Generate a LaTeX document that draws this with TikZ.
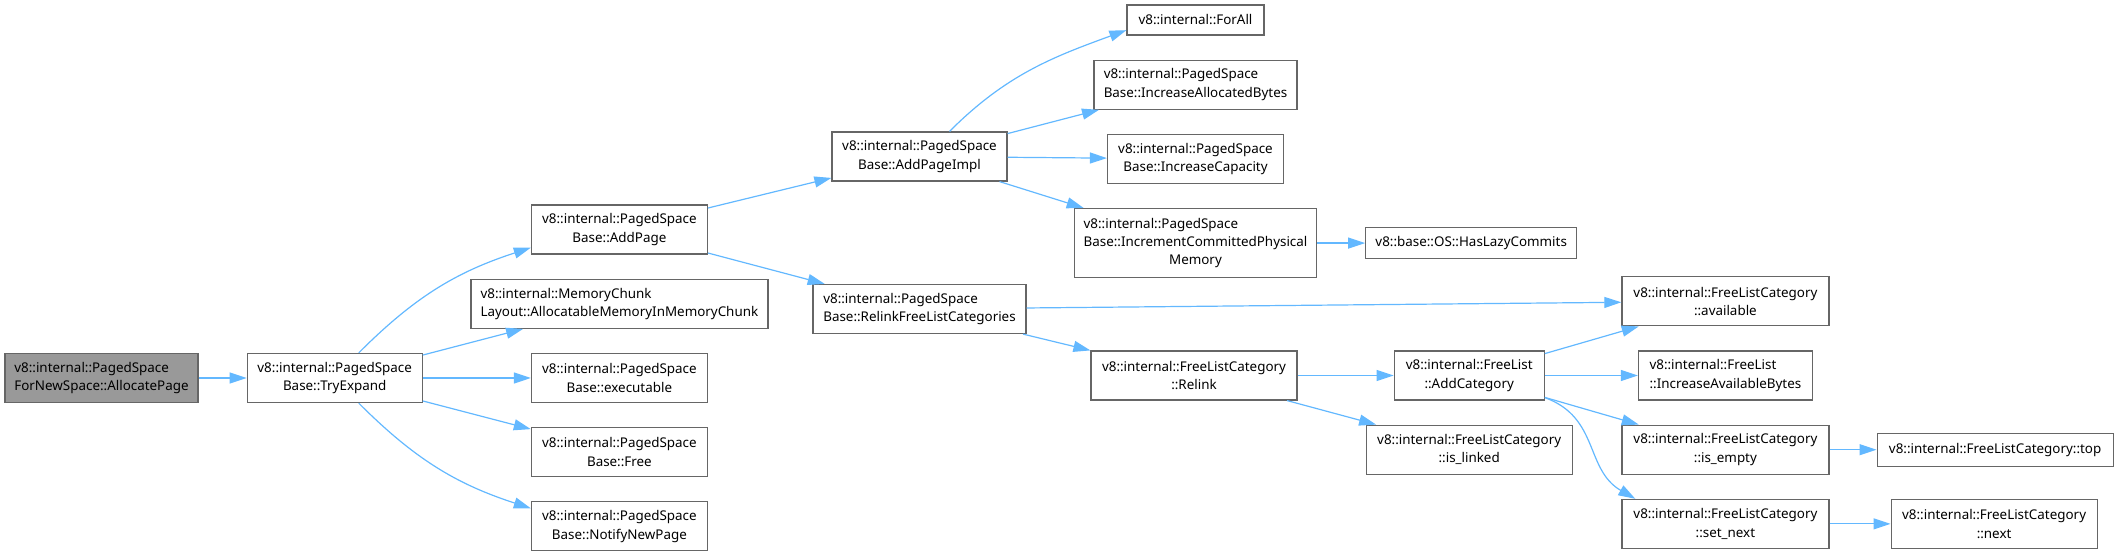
\documentclass[tikz,border=0pt]{standalone}
\usepackage{fontspec}
\setmainfont{Noto Sans}
\usepackage{tikz}
\usetikzlibrary{positioning,arrows.meta}
\definecolor{edgeblue}{HTML}{63B8FF}
\definecolor{fnborder}{HTML}{666666}
\definecolor{fngray}{HTML}{999999}

\begin{document}
\begin{tikzpicture}[x=0.5pt, y=0.5pt, font=\fontsize{6.7}{9.2}\selectfont,
  fn/.style={draw=fnborder, line width=0.6pt, fill=white, minimum width=88pt,
             minimum height=24.5pt, inner sep=1pt, align=center},
  fnl/.style={fn, align=left},
  fnone/.style={fn, minimum height=15pt},
  call/.style={draw=edgeblue, line width=0.6pt,
               -{Triangle[length=8.5pt, width=5.5pt]}}]
\useasboundingbox (0,0) rectangle (2117,-555);
\node[fnl, fill=fngray, minimum width=96.5pt] (allocpage) at (101.5,-378)
  {v8::internal::PagedSpace\\ForNewSpace::AllocatePage};
\node[fn, minimum width=87.5pt, right=24pt of allocpage] (tryexpand)
  {v8::internal::PagedSpace\\Base::TryExpand};
\node[fn, right=54pt of tryexpand] (executable)
  {v8::internal::PagedSpace\\Base::executable};
\node[fnl, minimum width=148.5pt, above=12pt of executable] (memchunk)
  {v8::internal::MemoryChunk\\Layout::AllocatableMemoryInMemoryChunk};
\node[fn, above=12pt of memchunk] (addpage)
  {v8::internal::PagedSpace\\Base::AddPage};
\node[fn, below=12pt of executable] (free)
  {v8::internal::PagedSpace\\Base::Free};
\node[fn, below=12pt of free] (notify)
  {v8::internal::PagedSpace\\Base::NotifyNewPage};
% callees of AddPage
\node[fn, minimum width=87.5pt] (addpageimpl) at (919.5,-156.5)
  {v8::internal::PagedSpace\\Base::AddPageImpl};
\node[fnl, minimum width=106.5pt] (relinkcats) at (919.5,-309)
  {v8::internal::PagedSpace\\Base::RelinkFreeListCategories};
\node[fnone, minimum width=68.5pt] (forall) at (1195.5,-20)
  {v8::internal::ForAll};
\node[fnl, minimum width=101.5pt, below=12pt of forall] (incalloc)
  {v8::internal::PagedSpace\\Base::IncreaseAllocatedBytes};
\node[fn, below=12pt of incalloc] (inccap)
  {v8::internal::PagedSpace\\Base::IncreaseCapacity};
\node[fn, minimum width=121pt, minimum height=34.5pt, below=12pt of inccap] (inccommit)
  {\rlap{v8::internal::PagedSpace}\phantom{Base::IncrementCommittedPhysical}\\
   Base::IncrementCommittedPhysical\\Memory};
\node[fnone, minimum width=105.5pt, minimum height=15.5pt, right=24pt of inccommit] (lazycommits)
  {v8::base::OS::HasLazyCommits};
% free list part
\node[fn, minimum width=103pt] (relink) at (1194,-375.5)
  {v8::internal::FreeListCategory\\::Relink};
\node[fn, minimum width=75pt, right=48pt of relink] (addcat)
  {v8::internal::FreeList\\::AddCategory};
\node[fn, minimum width=103pt, below=12pt of addcat] (islinked)
  {v8::internal::FreeListCategory\\::is\_linked};
\node[fnl, minimum width=87pt, right=46.5pt of addcat] (incavail)
  {v8::internal::FreeList\\::IncreaseAvailableBytes};
\node[fn, minimum width=103.5pt, above=12pt of incavail] (available)
  {v8::internal::FreeListCategory\\::available};
\node[fn, minimum width=103.5pt, below=12pt of incavail] (isempty)
  {v8::internal::FreeListCategory\\::is\_empty};
\node[fn, minimum width=103.5pt, below=12pt of isempty] (setnext)
  {v8::internal::FreeListCategory\\::set\_next};
\node[fnone, minimum width=118pt, minimum height=16.5pt, right=23.5pt of isempty] (flctop)
  {v8::internal::FreeListCategory::top};
\node[fn, minimum width=103pt, right=30.5pt of setnext] (flcnext)
  {v8::internal::FreeListCategory\\::next};
\draw[call] (allocpage) -- (tryexpand);
\draw[call] ([xshift=12pt]tryexpand.north) to[out=45,in=198] ([yshift=3.5pt]addpage.south west);
\draw[call] (tryexpand) -- (memchunk);
\draw[call] (tryexpand) -- (executable);
\draw[call] (tryexpand) -- (free);
\draw[call] ([xshift=12pt]tryexpand.south) to[out=-45,in=162] ([yshift=-3.5pt]notify.north west);
\draw[call] (addpage) -- (addpageimpl);
\draw[call] (addpage) -- (relinkcats);
\draw[call] ([xshift=15pt]addpageimpl.north) to[out=45,in=200] ([yshift=2.7pt]forall.south west);
\draw[call] (addpageimpl) -- (incalloc);
\draw[call] (addpageimpl) -- (inccap);
\draw[call] (addpageimpl) -- (inccommit);
\draw[call] (inccommit) -- (lazycommits);
\draw[call] (relinkcats) -- (available);
\draw[call] (relinkcats) -- (relink);
\draw[call] (relink) -- (addcat);
\draw[call] (relink) -- (islinked);
\draw[call] (addcat) -- (available);
\draw[call] (addcat) -- (incavail);
\draw[call] (addcat) -- (isempty);
\draw[call] ([yshift=1.5pt]addcat.south east) to[out=-20,in=150,looseness=1.1] ([xshift=7pt]setnext.north west);
\draw[call] (isempty) -- (flctop);
\draw[call] (setnext) -- (flcnext);
\end{tikzpicture}
\end{document}
